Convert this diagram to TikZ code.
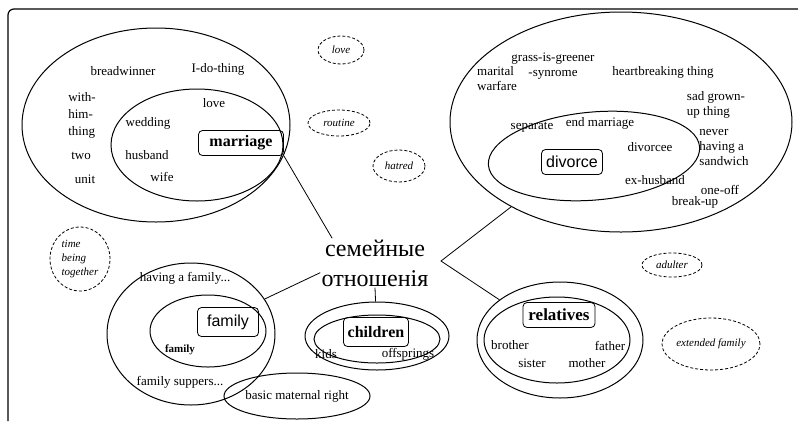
\documentclass[tikz,border=0pt]{standalone}
\usepackage{fontspec}
\setmainfont{Liberation Serif}
\newfontfamily\sansf{Liberation Sans}
\usetikzlibrary{shapes,positioning}
\tikzstyle{blob}=[shape=ellipse, draw, line width=1pt, inner sep=0pt]
\tikzstyle{cloud}=[shape=ellipse, draw, densely dashed, inner sep=0pt, font=\fontsize{11}{14}\selectfont\itshape]
\tikzstyle{key}=[draw, rounded corners=4pt, line width=0.8pt, inner sep=2pt]
\tikzstyle{wrd}=[inner sep=0pt, font=\fontsize{13}{15}\selectfont, align=center]

\begin{document}
\begin{tikzpicture}[x=1pt,y=-1pt,line width=0.8pt]
\useasboundingbox (0,0) rectangle (798,424);
\draw[line width=1.2pt, rounded corners=6pt] (8,421) -- (8,9) -- (798,9);

% marriage
\node (marO) [blob, minimum width=268pt, minimum height=194pt] at (156,125) {};
\node (marI) [blob, minimum width=172pt, minimum height=112pt] at (197,145) {};
\node (mar) [key, minimum width=85pt, minimum height=25pt, font=\fontsize{16}{18}\selectfont\bfseries] at (241,143) {marriage};
\node (bread) [wrd] at (123,71) {breadwinner};
\node (ido) [wrd] at (218,69) {I-do-thing};
\node (with) [wrd, align=left, font=\fontsize{13}{17}\selectfont] at (82,115) {with-\\him-\\thing};
\node (love) [wrd] at (214,103) {love};
\node (wedd) [wrd] at (148,123) {wedding};
\node (two) [wrd] at (81,156) {two};
\node (husb) [wrd] at (147,155) {husband};
\node (unit) [wrd] at (85,179) {unit};
\node (wife) [wrd] at (162,177) {wife};

% divorce
\node (divO) [blob, minimum width=342pt, minimum height=220pt] at (621,122) {};
\node (divI) [blob, minimum width=212pt, minimum height=88pt, rotate=5] at (594,156) {};
\node (div) [key, minimum width=61pt, minimum height=25pt, font=\sansf\fontsize{16}{18}\selectfont] at (572,162) {divorce};
\node (mwar) [wrd, align=left] at (497,79) {marital\\warfare};
\node (grass) [wrd] at (553,66) {grass-is-greener\\-synrome};
\node (heart) [wrd] at (663,72) {heartbreaking thing};
\node (sad) [wrd, align=left] at (716,105) {sad grown-\\up thing};
\node (sep) [wrd] at (532,127) {separate};
\node (endm) [wrd] at (600,123) {end marriage};
\node (never) [wrd, align=left] at (724,147) {never\\having a\\sandwich};
\node (dvee) [wrd] at (650,147) {divorcee};
\node (exh) [wrd] at (655,180) {ex-husband};
\node (oneoff) [wrd] at (720,190) {one-off};
\node (brk) [wrd] at (695,202) {break-up};

% family
\node (famO) [blob, minimum width=168pt, minimum height=142pt] at (191,334) {};
\node (famI) [blob, minimum width=116pt, minimum height=72pt] at (208,331) {};
\node (fam) [key, minimum width=61pt, minimum height=29pt, font=\sansf\fontsize{16}{18}\selectfont] at (228,322) {family};
\node (hav) [wrd] at (185,278) {having a family...};
\node (fsm) [wrd, font=\fontsize{11}{13}\selectfont\bfseries] at (180,350) {family};
\node (sup) [wrd] at (180,382) {family suppers...};
\node (bmr) [blob, minimum width=130pt, minimum height=46pt, font=\fontsize{13}{15}\selectfont] at (297,396) {basic maternal right};

% children
\node (chO) [blob, minimum width=144pt, minimum height=68pt] at (377,336) {};
\node (chI) [blob, minimum width=126pt, minimum height=48pt] at (377,339) {};
\node (chl) [key, minimum width=65pt, minimum height=29pt, font=\fontsize{16}{18}\selectfont\bfseries] at (376,332) {children};
\node (kids) [wrd] at (326,354) {kids};
\node (offs) [wrd] at (408,354) {offsprings};

% relatives
\node (relO) [blob, minimum width=166pt, minimum height=116pt] at (560,340) {};
\node (relI) [blob, minimum width=146pt, minimum height=86pt] at (557,340) {};
\node (rl) [key, minimum width=72pt, minimum height=25pt, font=\fontsize{17}{19}\selectfont\bfseries] at (559,315) {relatives};
\node (bro) [wrd] at (510,345) {brother};
\node (fat) [wrd] at (610,346) {father};
\node (sis) [wrd] at (532,363) {sister};
\node (mot) [wrd] at (587,363) {mother};

% loose words
\node (cLove) [cloud, minimum width=46pt, minimum height=28pt] at (341,50) {love};
\node (cRout) [cloud, minimum width=62pt, minimum height=26pt] at (339,123) {routine};
\node (cHat) [cloud, minimum width=52pt, minimum height=32pt] at (399,166) {hatred};
\node (cTime) [cloud, align=left, minimum width=60pt, minimum height=64pt] at (80,259) {time\\being\\together};
\node (cAdul) [cloud, minimum width=60pt, minimum height=24pt] at (672,265) {adulter};
\node (cExt) [cloud, minimum width=98pt, minimum height=52pt] at (711,344) {extended family};

% centre
\node (ctr) [align=center, inner sep=1pt, font=\fontsize{24}{30}\selectfont] at (375,263) {семейные\\отношенія};
\coordinate (jn) at (441,261);

\draw (mar.south east) -- (ctr.150);
\draw (famO) -- (ctr.190);
\draw (ctr.south) -- (chO);
\draw (divO) -- (jn) -- (relO);
\end{tikzpicture}
\end{document}
